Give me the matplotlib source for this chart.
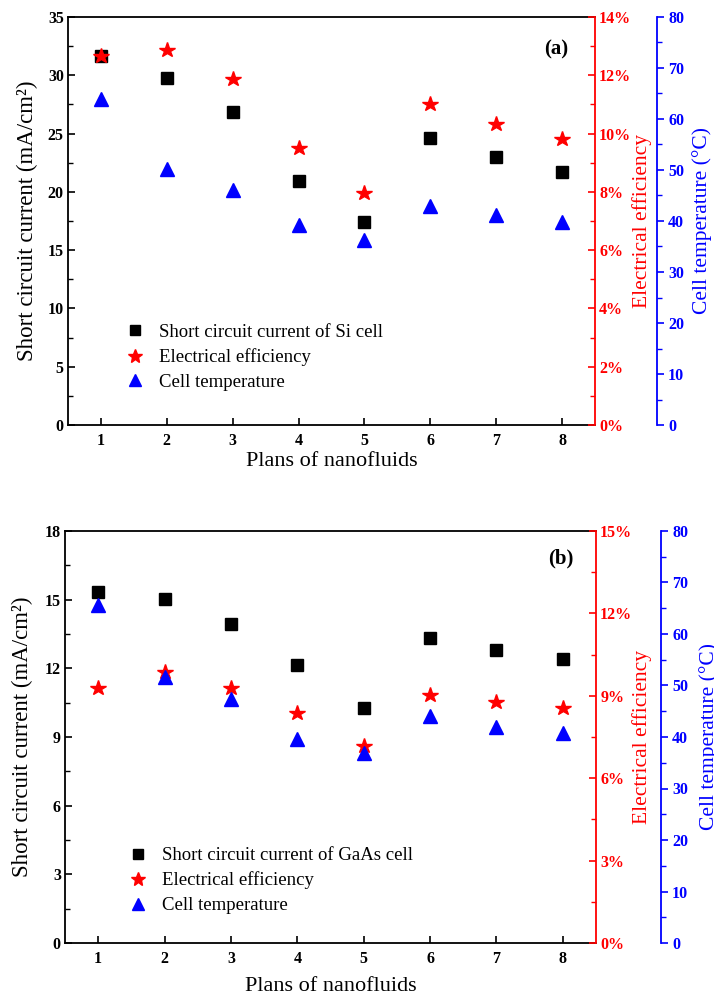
import numpy as np
import matplotlib.pyplot as plt
from matplotlib.lines import Line2D
from matplotlib.ticker import MultipleLocator, FuncFormatter

plt.rcParams['font.family'] = ['Liberation Serif', 'DejaVu Serif']

# x positions: nanofluid plans
plans = [1, 2, 3, 4, 5, 6, 7, 8]

# (a) Si cell
si_current = [31.65, 29.8, 26.85, 20.95, 17.45, 24.6, 22.95, 21.7]       # mA/cm2
si_efficiency = [12.67, 12.87, 11.87, 9.52, 7.97, 11.0, 10.33, 9.82]     # %
si_temperature = [64.0, 50.2, 46.1, 39.2, 36.2, 43.0, 41.1, 39.9]        # degC

# (b) GaAs cell
gaas_current = [15.33, 15.02, 13.95, 12.16, 10.28, 13.34, 12.82, 12.42]
gaas_efficiency = [9.30, 9.85, 9.30, 8.39, 7.18, 9.03, 8.79, 8.54]
gaas_temperature = [65.6, 51.6, 47.3, 39.7, 36.9, 44.1, 42.0, 40.8]

W, H = 714, 994
fig = plt.figure(figsize=(W / 100, H / 100), dpi=100)


def px_axes(left, right, top, bottom):
    return fig.add_axes([left / W, 1 - bottom / H, (right - left) / W, (bottom - top) / H])


def style_ticks(ax, color, direction):
    ax.tick_params(axis='y', which='major', direction=direction, length=5, width=1.2,
                   colors=color, labelsize=11.5, pad=3)
    ax.tick_params(axis='y', which='minor', direction=direction, length=3.5, width=1.0,
                   colors=color)
    for lab in ax.get_yticklabels():
        lab.set_fontweight('bold')


def panel(box, current, eff, temp, cur_max, cur_step, eff_max, eff_step, cell_name, tag,
          blue_offset_px, label_x, xlabel_y, legend_anchor, tag_xy):
    ax = px_axes(*box)
    ax.set_xlim(0.5, 8.5)
    ax.set_ylim(0, cur_max)
    ax.yaxis.set_major_locator(MultipleLocator(cur_step))
    ax.yaxis.set_minor_locator(MultipleLocator(cur_step / 2))
    ax.set_xticks(plans)
    ax.tick_params(axis='x', direction='in', length=5, width=1.2, labelsize=11.5, pad=6)
    style_ticks(ax, 'black', 'in')
    for lab in ax.get_xticklabels():
        lab.set_fontweight('bold')
    for s in ['left', 'bottom', 'top']:
        ax.spines[s].set_linewidth(1.3)
    ax.spines['right'].set_visible(False)

    # efficiency on the red right axis
    ax_e = ax.twinx()
    ax_e.set_ylim(0, eff_max)
    ax_e.yaxis.set_major_locator(MultipleLocator(eff_step))
    ax_e.yaxis.set_minor_locator(MultipleLocator(eff_step / 2))
    ax_e.yaxis.set_major_formatter(FuncFormatter(lambda v, p: f'{v:.0f}%'))
    style_ticks(ax_e, 'red', 'in')
    for s in ['left', 'bottom', 'top']:
        ax_e.spines[s].set_visible(False)
    ax_e.spines['right'].set_color('red')
    ax_e.spines['right'].set_linewidth(1.3)

    # temperature on the offset blue axis
    ax_t = ax.twinx()
    ax_t.set_ylim(0, 80)
    ax_t.yaxis.set_major_locator(MultipleLocator(10))
    ax_t.yaxis.set_minor_locator(MultipleLocator(5))
    ax_t.spines['right'].set_position(('outward', blue_offset_px * 0.72))
    style_ticks(ax_t, 'blue', 'out')
    for s in ['left', 'bottom', 'top']:
        ax_t.spines[s].set_visible(False)
    ax_t.spines['right'].set_color('blue')
    ax_t.spines['right'].set_linewidth(1.3)

    ax.plot(plans, current, 's', color='black', markersize=9, linestyle='none', zorder=3)
    ax_e.plot(plans, eff, '*', color='red', markersize=11.5, linestyle='none', zorder=3)
    ax_t.plot(plans, temp, '^', color='blue', markersize=10.5, linestyle='none', zorder=3)

    ax.set_xlabel('Plans of nanofluids', fontsize=16)
    ax.xaxis.set_label_coords(0.5, xlabel_y)
    ax.xaxis.label.set_va('top')
    ax.set_ylabel('Short circuit current (mA/cm\u00b2)', fontsize=16.5)
    ax.yaxis.set_label_coords(label_x[0], 0.5)
    ax_e.set_ylabel('Electrical efficiency', fontsize=15.5, color='red')
    ax_e.yaxis.set_label_coords(label_x[1], 0.5)
    ax_t.set_ylabel('Cell temperature (\u00b0C)', fontsize=15.5, color='blue')
    ax_t.yaxis.set_label_coords(label_x[2], 0.5)

    handles = [
        Line2D([], [], marker='s', color='black', linestyle='none', markersize=7),
        Line2D([], [], marker='*', color='red', linestyle='none', markersize=10),
        Line2D([], [], marker='^', color='blue', linestyle='none', markersize=9),
    ]
    labels = [f'Short circuit current of {cell_name} cell', 'Electrical efficiency',
              'Cell temperature']
    ax_t.legend(handles, labels, loc='lower left', bbox_to_anchor=legend_anchor,
                frameon=False, fontsize=13.5, handletextpad=0.8, labelspacing=0.4,
                handlelength=1.0, borderaxespad=0)

    ax_t.text(tag_xy[0], tag_xy[1], tag, transform=ax.transAxes, fontsize=15,
              fontweight='bold', ha='center', va='center')


panel((68, 595, 17, 425), si_current, si_efficiency, si_temperature,
      35, 5, 14, 2, 'Si', '(a)', 62, (-0.057, 1.070, 1.184), -0.066,
      (0.095, 0.065), (0.926, 0.92))

panel((65, 596, 531, 943), gaas_current, gaas_efficiency, gaas_temperature,
      18, 3, 15, 3, 'GaAs', '(b)', 65, (-0.060, 1.068, 1.194), -0.083,
      (0.105, 0.052), (0.934, 0.934))

fig.savefig('out.png', dpi=100)
